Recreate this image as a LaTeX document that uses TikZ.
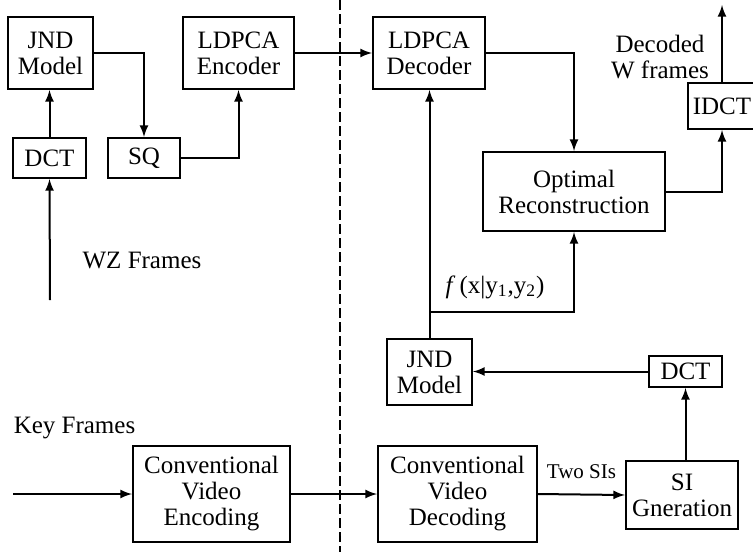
\documentclass[tikz,border=0pt]{standalone}
\usepackage{fontspec}
\setmainfont{Liberation Serif}
\usetikzlibrary{calc}

\tikzset{
    blk/.style={draw, line width=1pt, inner sep=0pt, align=center, font=\fontsize{12.5}{13}\selectfont},
    lbl/.style={inner sep=0pt, align=center, font=\fontsize{12.5}{13}\selectfont},
}

\begin{document}
\begin{tikzpicture}[x=0.5pt, y=-0.5pt, line width=1pt]
    \useasboundingbox (0, 0) rectangle (753, 552);
    % encoder side
    \node[blk, minimum width=42.5pt, minimum height=36pt] (jndA) at (50.5, 53) {JND\\Model};
    \node[blk, minimum width=55.5pt, minimum height=36pt] (ldpcaEnc) at (238.5, 53) {LDPCA\\Encoder};
    \node[blk, minimum width=36.5pt, minimum height=20pt] (dctA) at (49.5, 158) {DCT};
    \node[blk, minimum width=36pt, minimum height=20pt] (sq) at (144, 158) {SQ};
    \node[blk, minimum width=78.5pt, minimum height=48pt] (cvEnc) at (211.5, 494) {Conventional\\Video\\Encoding};
    % decoder side
    \node[blk, minimum width=56pt, minimum height=36pt] (ldpcaDec) at (429, 53) {LDPCA\\Decoder};
    \node[blk, minimum width=91pt, minimum height=39.5pt] (optRec) at (574, 191.5) {Optimal\\Reconstruction};
    \node[blk, minimum width=34pt, minimum height=23pt] (idct) at (722, 106) {IDCT};
    \node[blk, minimum width=42.5pt, minimum height=33pt] (jndB) at (429.5, 372) {JND\\Model};
    \node[blk, minimum width=36.5pt, minimum height=15.5pt] (dctB) at (685.5, 371.5) {DCT};
    \node[blk, minimum width=56pt, minimum height=34pt] (siGen) at (682, 495) {SI\\Gneration};
    \node[blk, minimum width=79.5pt, minimum height=48pt] (cvDec) at (457.5, 494) {Conventional\\Video\\Decoding};
    % labels
    \node[lbl] (wzLbl) at (142, 260) {WZ Frames};
    \node[lbl] (keyLbl) at (74.5, 428) {Key Frames};
    \node[lbl] (decLbl) at (660, 57) {Decoded\\W frames};
    \node[lbl] (pdfLbl) at (495, 287) {\textit{f}\,(x|y\textsubscript{1},y\textsubscript{2})};
    \coordinate (wzIn) at (50, 300);
    \coordinate (keyIn) at (13, 494);
    \coordinate (outTop) at (722, 5);
    \coordinate (split) at (429.5, 312);
    % divider
    \draw[dash pattern=on 5pt off 2pt] (340, 0) -- (340, 552);
    % connectors
    \draw[-latex] (wzIn) -- (dctA.south);
    \draw[-latex] (dctA.north) -- (dctA.north |- jndA.south);
    \draw[-latex] (jndA.east) -| (sq.north);
    \draw[-latex] (sq.east) -| (ldpcaEnc.south);
    \draw[-latex] (ldpcaEnc.east) -- (ldpcaDec.west);
    \draw[-latex] (ldpcaDec.east) -| (optRec.north);
    \draw[-latex] (optRec.east) -| (idct.south);
    \draw[-latex] (idct.north) -- (outTop);
    \draw[-latex] (jndB.north) -- (jndB.north |- ldpcaDec.south);
    \draw[-latex] (split) -| (optRec.south);
    \draw[-latex] (dctB.west) -- (dctB.west -| jndB.east);
    \draw[-latex] (dctB.south |- siGen.north) -- (dctB.south);
    \draw[-latex] (keyIn) -- (cvEnc.west);
    \draw[-latex] (cvEnc.east) -- (cvDec.west);
    \draw[-latex] (cvDec.east) -- (siGen.west) node[midway, above=4pt, font=\fontsize{10.5}{11}\selectfont]{Two SIs};
\end{tikzpicture}
\end{document}
